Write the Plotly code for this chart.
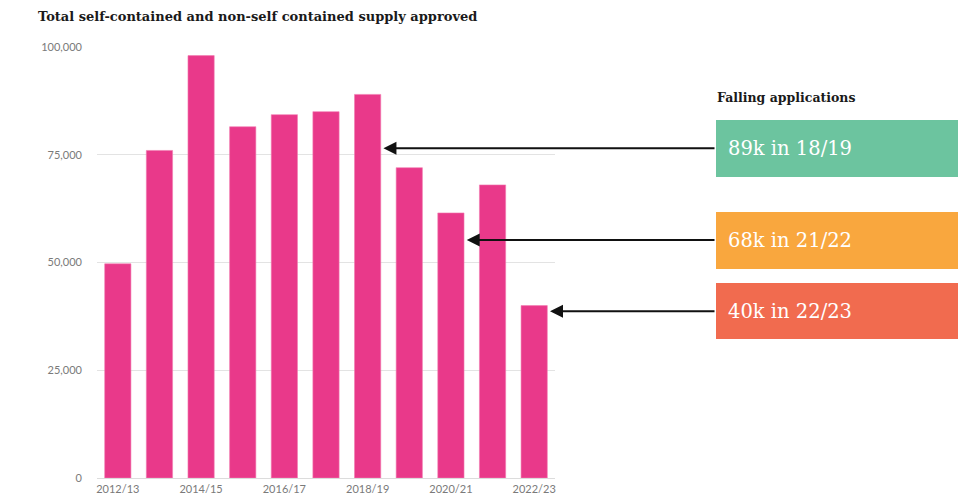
import plotly.graph_objects as go

# ---- data ----
years = ["2012/13", "2013/14", "2014/15", "2015/16", "2016/17", "2017/18",
         "2018/19", "2019/20", "2020/21", "2021/22", "2022/23"]
approved = [49700, 76000, 98000, 81500, 84300, 85000, 89000, 72000, 61500, 68000, 40000]
y_ticks = [0, 25000, 50000, 75000, 100000]
y_tick_text = ["0", "25,000", "50,000", "75,000", "100,000"]
x_tick_years = years[::2]

callout_text = ["89k in 18/19", "68k in 21/22", "40k in 22/23"]
callout_bar = ["2018/19", "2020/21", "2022/23"]
callout_arrow_y = [76500, 55200, 38700]
callout_colors = ["#6CC49F", "#F9A73E", "#F16B4F"]

# ---- layout geometry (pixels) ----
W, H = 963, 501
L, R, T, B = 97, 555, 47, 478

def px_x(p):
    return (p - L) / (R - L)

def px_y(p):
    return (B - p) / (B - T)

fig = go.Figure()
fig.add_trace(go.Bar(
    x=years, y=approved,
    marker=dict(color="#E9398A", line=dict(width=0.6, color="#F27AB0")),
    hoverinfo="x+y",
))

box_tops = [120, 212, 283]
box_bottoms = [177, 269, 339]
shapes = []
annotations = []
n = len(years)
band = (R - L) / n
for txt, bar, ay, col, t0, b0 in zip(callout_text, callout_bar, callout_arrow_y,
                                     callout_colors, box_tops, box_bottoms):
    shapes.append(dict(type="rect", xref="paper", yref="paper",
                       x0=px_x(716), x1=px_x(958), y0=px_y(b0), y1=px_y(t0),
                       fillcolor=col, line=dict(width=0), layer="above"))
    annotations.append(dict(xref="paper", yref="paper", x=px_x(726), y=px_y((t0 + b0) / 2),
                            text=txt, showarrow=False, xanchor="left", yanchor="middle",
                            font=dict(family="DejaVu Serif", size=19.5, color="white")))
    idx = years.index(bar)
    tail_x = (716 - L) / band - 0.5
    annotations.append(dict(xref="x", yref="y", x=idx + 0.38, y=ay,
                            axref="x", ayref="y", ax=tail_x, ay=ay,
                            text="", showarrow=True, arrowhead=2, arrowsize=1.3,
                            arrowwidth=2, arrowcolor="#111111"))

annotations.append(dict(xref="paper", yref="paper", x=px_x(715), y=px_y(97),
                        text="<b>Falling applications</b>", showarrow=False,
                        xanchor="left", yanchor="middle",
                        font=dict(family="DejaVu Serif", size=12.5, color="#1a1a1a")))

fig.update_layout(
    width=W, height=H,
    margin=dict(l=L, r=W - R, t=T, b=H - B, autoexpand=False),
    paper_bgcolor="white", plot_bgcolor="white",
    bargap=0.37,
    showlegend=False,
    title=dict(text="<b>Total self-contained and non-self contained supply approved</b>",
               xref="container", yref="container", x=38 / W, y=1 - 16 / H,
               xanchor="left", yanchor="middle",
               font=dict(family="DejaVu Serif", size=13, color="#1a1a1a")),
    shapes=shapes,
    annotations=annotations,
    xaxis=dict(type="category", range=[-0.5, n - 0.5], tickmode="array",
               tickvals=x_tick_years, ticktext=x_tick_years,
               showgrid=False, showline=False, ticks="", ticklabelstandoff=3,
               tickfont=dict(family="Lato", size=11, color="#7a7a7a")),
    yaxis=dict(range=[0, 100000], tickmode="array", tickvals=y_ticks,
               ticktext=y_tick_text, showgrid=True, gridcolor="#e3e3e3",
               gridwidth=1, zeroline=True, zerolinecolor="#dcdcdc", zerolinewidth=1,
               showline=False, ticks="", ticklabelstandoff=14,
               tickfont=dict(family="Lato", size=11, color="#7a7a7a")),
)

fig.write_html("out.html")
